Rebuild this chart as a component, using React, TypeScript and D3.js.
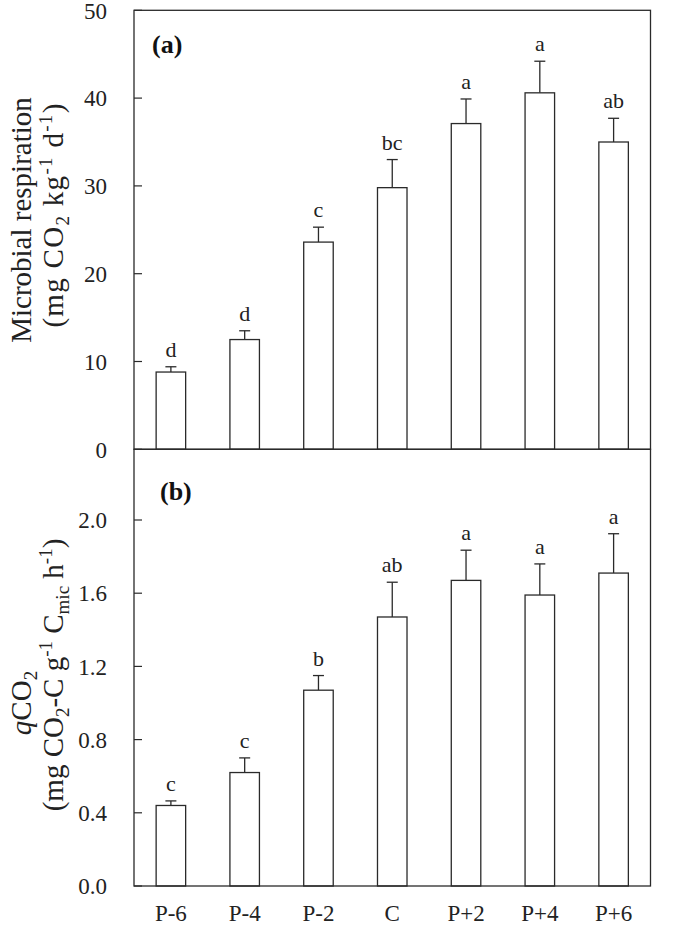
import React from "react";
import * as d3 from "d3";

const categories = ["P-6", "P-4", "P-2", "C", "P+2", "P+4", "P+6"];
const respMean = [8.8, 12.5, 23.6, 29.8, 37.1, 40.6, 35.0];
const respErr = [0.6, 1.0, 1.7, 3.2, 2.8, 3.6, 2.7];
const respSig = ["d", "d", "c", "bc", "a", "a", "ab"];
const qMean = [0.44, 0.62, 1.07, 1.47, 1.67, 1.59, 1.71];
const qErr = [0.025, 0.08, 0.08, 0.19, 0.165, 0.17, 0.215];
const qSig = ["c", "c", "b", "ab", "a", "a", "a"];
const respTicks = [0, 10, 20, 30, 40, 50];
const qTicks = [0, 0.4, 0.8, 1.2, 1.6, 2.0];

const W = 675;
const H = 926;
const LEFT = 134;
const RIGHT = 650.5;
const A_TOP = 10.3;
const A_BOT = 449.3;
const B_BOT = 886;
const FONT = "'Liberation Serif', 'Times New Roman', serif";
const STROKE = "#2a2a2a";

const x = d3.scaleBand<string>().domain(categories).range([LEFT, RIGHT]).padding(0);
const yA = d3.scaleLinear().domain([0, 50]).range([A_BOT, A_TOP]);
const yB = d3.scaleLinear().domain([0, (B_BOT - A_BOT) / 183]).range([B_BOT, A_BOT]);

function Panel({
  y,
  mean,
  err,
  sig,
  ticks,
  fmt,
  top,
  bottom,
}: {
  y: d3.ScaleLinear<number, number>;
  mean: number[];
  err: number[];
  sig: string[];
  ticks: number[];
  fmt: (v: number) => string;
  top: number;
  bottom: number;
}) {
  const bw = x.bandwidth() * 0.4;
  return (
    <g>
      {categories.map((c, i) => {
        const cx = (x(c) as number) + x.bandwidth() / 2;
        const yt = y(mean[i]);
        const ye = y(mean[i] + err[i]);
        return (
          <g key={c}>
            <line x1={cx} x2={cx} y1={yt} y2={ye} stroke={STROKE} strokeWidth={1.3} />
            <line x1={cx - 5.5} x2={cx + 5.5} y1={ye} y2={ye} stroke={STROKE} strokeWidth={1.3} />
            <rect x={cx - bw / 2} y={yt} width={bw} height={bottom - yt} fill="#fff" stroke={STROKE} strokeWidth={1.3} />
            <text x={cx} y={ye - 10} textAnchor="middle" fontSize={22} fontFamily={FONT} fill="#222">
              {sig[i]}
            </text>
          </g>
        );
      })}
      {ticks.map((t) => (
        <g key={t}>
          <line x1={LEFT} x2={LEFT + 8} y1={y(t)} y2={y(t)} stroke={STROKE} strokeWidth={1.2} />
          <text x={107} y={y(t)} dy="0.36em" textAnchor="end" fontSize={23} fontFamily={FONT} fill="#222">
            {fmt(t)}
          </text>
        </g>
      ))}
      <rect x={LEFT} y={top} width={RIGHT - LEFT} height={bottom - top} fill="none" stroke={STROKE} strokeWidth={1.3} />
    </g>
  );
}

export default function App() {
  const sub = { fontSize: 19 };
  return (
    <svg width={W} height={H} style={{ position: "absolute", left: 0, top: 0, background: "#fff" }}>
      <rect width={W} height={H} fill="#fff" />
      <Panel y={yA} mean={respMean} err={respErr} sig={respSig} ticks={respTicks} fmt={(v) => d3.format("d")(v)} top={A_TOP} bottom={A_BOT} />
      <Panel y={yB} mean={qMean} err={qErr} sig={qSig} ticks={qTicks} fmt={(v) => d3.format(".1f")(v)} top={A_BOT} bottom={B_BOT} />

      <text x={152} y={53} fontSize={26} fontWeight="bold" fontFamily={FONT} fill="#111">(a)</text>
      <text x={160} y={500} fontSize={26} fontWeight="bold" fontFamily={FONT} fill="#111">(b)</text>

      {categories.map((c) => (
        <text key={c} x={(x(c) as number) + x.bandwidth() / 2} y={921} textAnchor="middle" fontSize={23} fontFamily={FONT} fill="#222">
          {c}
        </text>
      ))}

      <g fontFamily={FONT} fill="#222" fontSize={29} textAnchor="middle">
        <text transform="translate(31,220) rotate(-90)">Microbial respiration</text>
        <text transform="translate(63,215) rotate(-90)" letterSpacing={1.3}>
          (mg CO<tspan {...sub} dy={6}>2</tspan>
          <tspan dy={-6}> kg</tspan>
          <tspan {...sub} dy={-11}>-1</tspan>
          <tspan dy={11}> d</tspan>
          <tspan {...sub} dy={-11}>-1</tspan>
          <tspan dy={11}>)</tspan>
        </text>
        <text transform="translate(31,703) rotate(-90)">
          <tspan fontStyle="italic">q</tspan>CO<tspan {...sub} dy={6}>2</tspan>
        </text>
        <text transform="translate(63,675) rotate(-90)">
          (mg CO<tspan {...sub} dy={6}>2</tspan>
          <tspan dy={-6}>-C g</tspan>
          <tspan {...sub} dy={-11}>-1</tspan>
          <tspan dy={11}> C</tspan>
          <tspan {...sub} dy={6}>mic</tspan>
          <tspan dy={-6}> h</tspan>
          <tspan {...sub} dy={-11}>-1</tspan>
          <tspan dy={11}>)</tspan>
        </text>
      </g>
    </svg>
  );
}
